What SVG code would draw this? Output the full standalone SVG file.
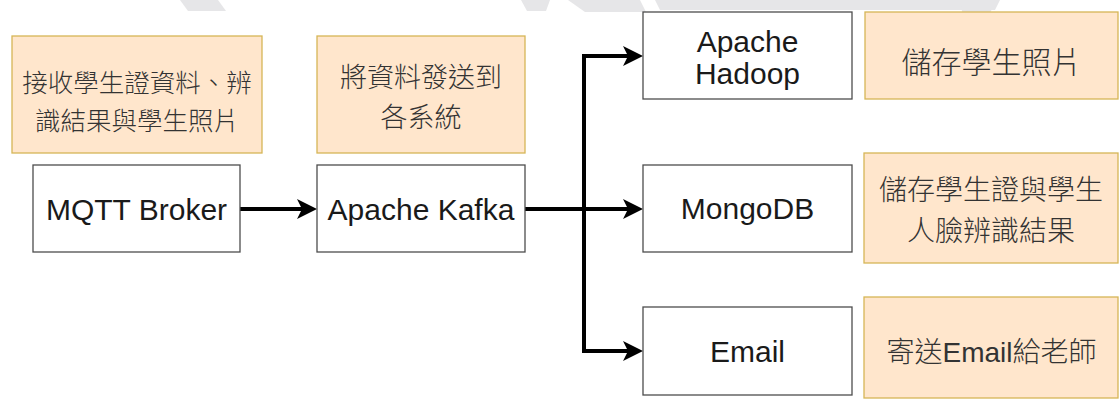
<svg xmlns="http://www.w3.org/2000/svg" width="1120" height="400" viewBox="0 0 1120 400">
  <style>
    .box { fill: #ffffff; stroke: #4d4d4d; stroke-width: 1.3; }
    .note { fill: #ffe6cc; stroke: #d6b656; stroke-width: 1.3; }
    .lbl { font-family: "Liberation Sans", Arial, sans-serif; font-size: 30px; fill: #1a1a1a; text-anchor: middle; }
    .cjk { font-family: "Noto Sans CJK TC", "Noto Sans CJK SC", sans-serif; font-size: 30px; font-weight: 300; fill: #333333; text-anchor: middle; dominant-baseline: central; }
    .wire { fill: none; stroke: #000000; stroke-width: 4; stroke-linejoin: miter; marker-end: url(#arrow); }
    .wm { fill: #e6e6e8; }
  </style>
  <defs>
    <marker id="arrow" markerUnits="userSpaceOnUse" markerWidth="20" markerHeight="20" viewBox="0 0 20 20" refX="5" refY="10" orient="auto">
      <path d="M0,0 L20,10 L0,20 L5,10 Z" fill="#000000"/>
    </marker>
  </defs>
  <rect width="1120" height="400" fill="#ffffff"/>

  <g id="watermark">
    <polygon class="wm" points="180,0 218,0 226,11 188,11"/>
    <polygon class="wm" points="521,0 550,0 546,11 527,11"/>
    <polygon class="wm" points="568,0 640,0 646,12 585,12"/>
    <polygon class="wm" points="655,0 1000,0 995,10 660,10"/>
    <polygon class="wm" points="960,0 995,0 985,28 965,28"/>
  </g>

  <g id="connectors">
    <path class="wire" d="M240,209 H302"/>
    <path class="wire" d="M525,209 H584 V56 H628"/>
    <path class="wire" d="M525,209 H628"/>
    <path class="wire" d="M525,209 H584 V351 H628"/>
  </g>

  <g id="note-receive">
    <rect class="note" x="12" y="36" width="250" height="117"/>
    <text class="cjk" style="font-size:25.5px"><tspan x="137" y="80">接收學生證資料、辨</tspan><tspan x="137" y="117.5">識結果與學生照片</tspan></text>
  </g>
  <g id="note-dispatch">
    <rect class="note" x="317" y="36" width="208" height="117"/>
    <text class="cjk" style="font-size:27px"><tspan x="421" y="75">將資料發送到</tspan><tspan x="421" y="114.5">各系統</tspan></text>
  </g>

  <g id="mqtt">
    <rect class="box" x="33" y="165" width="207" height="87"/>
    <text class="lbl" x="136.5" y="220">MQTT Broker</text>
  </g>
  <g id="kafka">
    <rect class="box" x="317" y="165" width="208" height="87"/>
    <text class="lbl" x="421" y="220">Apache Kafka</text>
  </g>
  <g id="hadoop">
    <rect class="box" x="643" y="12" width="209" height="87"/>
    <text class="lbl"><tspan x="747.5" y="52">Apache</tspan><tspan x="747.5" y="84">Hadoop</tspan></text>
  </g>
  <g id="mongodb">
    <rect class="box" x="643" y="165" width="209" height="87"/>
    <text class="lbl" x="747.5" y="219">MongoDB</text>
  </g>
  <g id="email">
    <rect class="box" x="643" y="307" width="209" height="88"/>
    <text class="lbl" x="747.5" y="362">Email</text>
  </g>

  <g id="note-hadoop">
    <rect class="note" x="865" y="12" width="253" height="87"/>
    <text class="cjk" x="991.5" y="59.5">儲存學生照片</text>
  </g>
  <g id="note-mongodb">
    <rect class="note" x="864" y="153" width="254" height="110"/>
    <text class="cjk" style="font-size:28px"><tspan x="991" y="188">儲存學生證與學生</tspan><tspan x="991" y="229">人臉辨識結果</tspan></text>
  </g>
  <g id="note-email">
    <rect class="note" x="864" y="297" width="254" height="101"/>
    <text class="cjk" style="font-family:'Liberation Sans','Noto Sans CJK TC',sans-serif;font-size:28px" x="991.5" y="352">寄送Email給老師</text>
  </g>
</svg>
